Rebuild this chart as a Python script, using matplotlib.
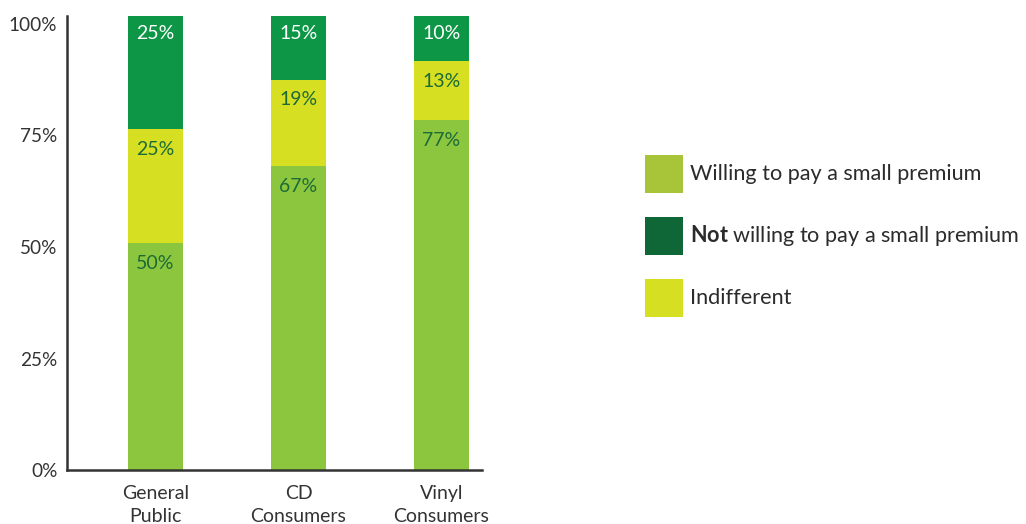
import matplotlib
matplotlib.use("Agg")
import matplotlib.pyplot as plt
from matplotlib.patches import Rectangle
from matplotlib.transforms import ScaledTranslation

plt.rcParams["font.family"] = ["Lato", "DejaVu Sans"]
plt.rcParams["mathtext.fontset"] = "custom"
plt.rcParams["mathtext.bf"] = "Lato:bold"
plt.rcParams["mathtext.rm"] = "Lato"

# Survey data (percent of respondents)
groups = ["General\nPublic", "CD\nConsumers", "Vinyl\nConsumers"]
willing = [50, 67, 77]
indifferent = [25, 19, 13]
not_willing = [25, 15, 10]

y_ticks = [0, 25, 50, 75, 100]
y_tick_labels = ["0%", "25%", "50%", "75%", "100%"]

legend_labels = ["Willing to pay a small premium",
                 r"$\bf{Not}$ willing to pay a small premium",
                 "Indifferent"]

# Colours
c_willing = "#8CC63F"
c_indiff = "#D6DF22"
c_not = "#0E9647"
leg_colors = ["#A8C53A", "#0F6637", "#D6DF22"]
txt_dark = "#1C6B36"
axis_col = "#333333"

W, H = 1026, 524
fig = plt.figure(figsize=(W / 100, H / 100), dpi=100)
ax = fig.add_axes([67 / W, (H - 470) / H, (482 - 67) / W, 454 / H])

x = list(range(len(groups)))
bw = 0.385
bottom2 = [a + b for a, b in zip(willing, indifferent)]
ax.bar(x, willing, width=bw, color=c_willing, linewidth=0)
ax.bar(x, indifferent, width=bw, bottom=willing, color=c_indiff, linewidth=0)
ax.bar(x, not_willing, width=bw, bottom=bottom2, color=c_not, linewidth=0)

# Value labels near the top of each segment
fs_val = 14
for i in x:
    top1 = willing[i]
    top2 = bottom2[i]
    top3 = min(100, top2 + not_willing[i])
    ax.text(i, top1 - 4.5, f"{willing[i]}%", ha="center", va="center",
            color=txt_dark, fontsize=fs_val)
    ax.text(i, top2 - 4.4, f"{indifferent[i]}%", ha="center", va="center",
            color=txt_dark, fontsize=fs_val)
    ax.text(i, top3 - 3.9, f"{not_willing[i]}%", ha="center", va="center",
            color="white", fontsize=fs_val)

ax.set_xlim(-0.619, 2.283)
ax.set_ylim(0, 100)
ax.set_yticks(y_ticks)
ax.set_yticklabels(y_tick_labels, fontsize=13.7, color="#333333")
ax.set_xticks(x)
ax.set_xticklabels(groups, fontsize=14, color="#333333", linespacing=1.38)
ax.tick_params(axis="both", length=0)
ax.tick_params(axis="y", pad=7)
ax.tick_params(axis="x", pad=11)
# tick labels sit slightly lower toward the top of the axis
for val, lbl in zip(y_ticks, ax.get_yticklabels()):
    shift = ScaledTranslation(0, -0.08 * val / 100, fig.dpi_scale_trans)
    lbl.set_transform(lbl.get_transform() + shift)

for side in ["top", "right"]:
    ax.spines[side].set_visible(False)
for side in ["left", "bottom"]:
    ax.spines[side].set_color(axis_col)
    ax.spines[side].set_linewidth(1.8)

# Legend drawn as swatches with text alongside
sw = 38
for k, (lab, col) in enumerate(zip(legend_labels, leg_colors)):
    yc = 174 + 62 * k
    fig.add_artist(Rectangle((645 / W, (H - yc - sw / 2) / H), sw / W, sw / H,
                             transform=fig.transFigure, color=col, linewidth=0))
    fig.text(690 / W, (H - yc) / H, lab, ha="left", va="center",
             fontsize=15.6, color="#2b2b2b")

fig.savefig("out.png", dpi=100)
